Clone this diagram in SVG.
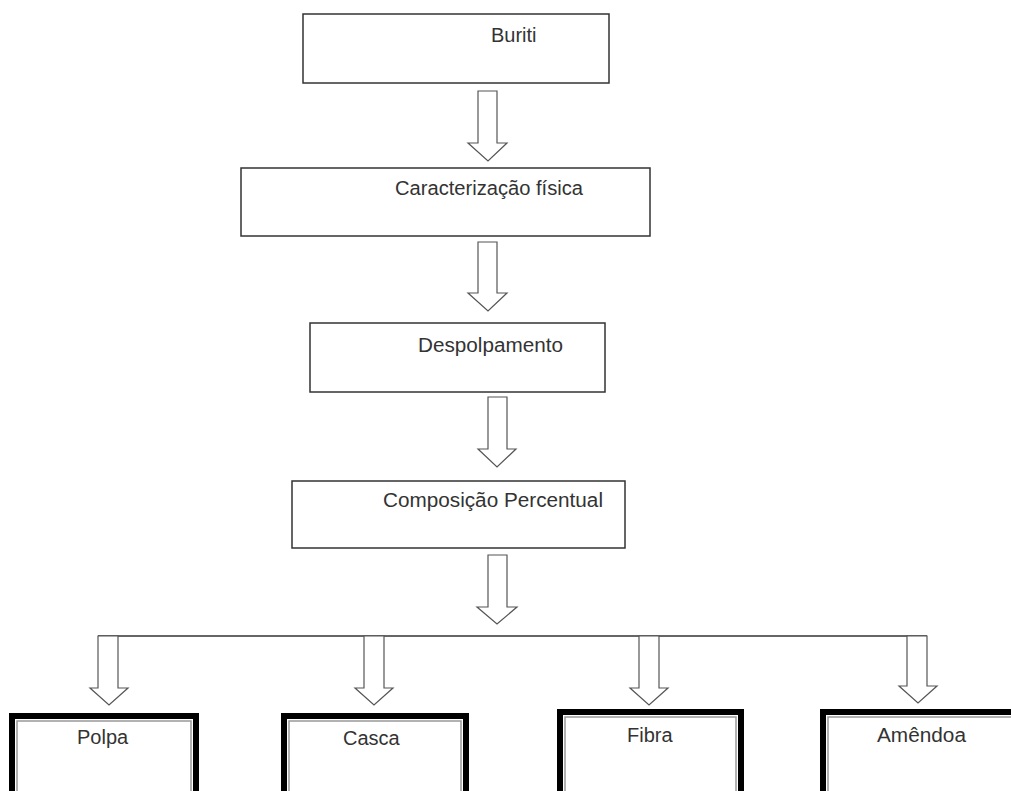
<svg xmlns="http://www.w3.org/2000/svg" width="1011" height="791" viewBox="0 0 1011 791">
<style>
.box{fill:#fff;stroke:#333;stroke-width:1.5}
.outer{fill:#fff;stroke:#000;stroke-width:6}
.inner{fill:none;stroke:#999;stroke-width:1.5}
.arrow{fill:#fff;stroke:#555;stroke-width:1.2;stroke-linejoin:miter}
.line{fill:none;stroke:#333;stroke-width:1.5}
text{font-family:"Liberation Sans",Arial,sans-serif;font-size:20px;fill:#333}
</style>
<rect width="1011" height="791" fill="#fff"/>
<g id="connectors">
<path class="arrow" d="M478,91 H497 V143 H507 L488,161 L468,143 H478 Z"/>
<path class="arrow" d="M478,242 H497 V293 H507 L488,311 L468,293 H478 Z"/>
<path class="arrow" d="M488,397 H507 V449 H516 L497,467 L478,449 H488 Z"/>
<path class="arrow" d="M488,555 H507 V607 H517 L497,624 L477,607 H488 Z"/>
<path class="line" d="M98,636 H927"/>
<path class="arrow" d="M98,636 H118 V688 H128 L109,705 L90,688 H98 Z"/>
<path class="arrow" d="M364,636 H384 V688 H393 L374,705 L355,688 H364 Z"/>
<path class="arrow" d="M639,636 H659 V688 H668 L649,705 L630,688 H639 Z"/>
<path class="arrow" d="M907,636 H927 V686 H937 L918,703 L899,686 H907 Z"/>
</g>
<g id="buriti">
<rect class="box" x="303" y="14" width="306" height="69"/>
<text x="491" y="42">Buriti</text>
</g>
<g id="caracterizacao">
<rect class="box" x="241" y="168" width="409" height="68"/>
<text x="395" y="195" textLength="188" lengthAdjust="spacingAndGlyphs">Caracterização física</text>
</g>
<g id="despolpamento">
<rect class="box" x="310" y="323" width="295" height="69"/>
<text x="418" y="352" textLength="145" lengthAdjust="spacingAndGlyphs">Despolpamento</text>
</g>
<g id="composicao">
<rect class="box" x="292" y="481" width="333" height="67"/>
<text x="383" y="507" textLength="220" lengthAdjust="spacingAndGlyphs">Composição Percentual</text>
</g>
<g id="polpa">
<rect class="outer" x="12" y="716" width="184" height="100"/>
<rect class="inner" x="17" y="721" width="174" height="100"/>
<text x="77" y="744">Polpa</text>
</g>
<g id="casca">
<rect class="outer" x="284" y="716" width="182" height="100"/>
<rect class="inner" x="289" y="721" width="172" height="100"/>
<text x="343" y="745">Casca</text>
</g>
<g id="fibra">
<rect class="outer" x="560" y="712" width="181" height="100"/>
<rect class="inner" x="565" y="717" width="171" height="100"/>
<text x="627" y="742">Fibra</text>
</g>
<g id="amendoa">
<rect class="outer" x="823" y="712" width="200" height="100"/>
<rect class="inner" x="828" y="717" width="190" height="100"/>
<text x="877" y="742" textLength="89" lengthAdjust="spacingAndGlyphs">Amêndoa</text>
</g>
</svg>
